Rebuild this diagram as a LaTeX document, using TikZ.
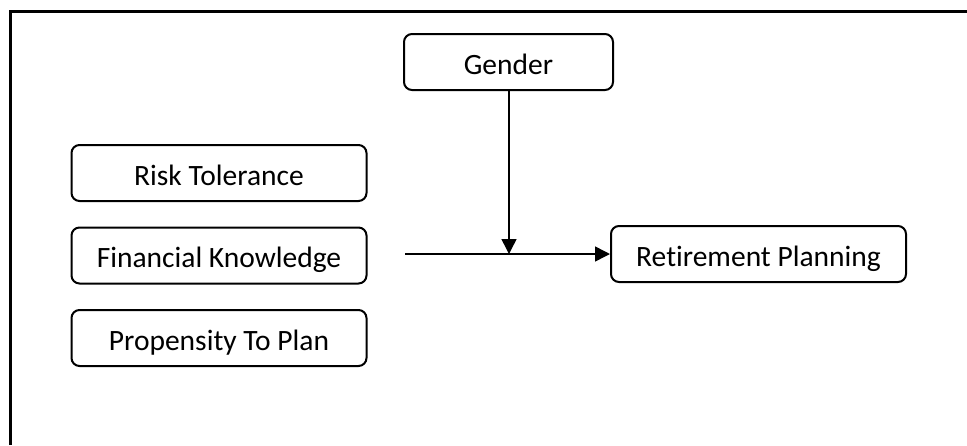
\documentclass[tikz,border=0pt]{standalone}
\usepackage{fontspec}
\setmainfont{Carlito}[Ligatures=NoCommon]
\usetikzlibrary{arrows.meta}

\begin{document}
\begin{tikzpicture}[x=1pt, y=-1pt, node distance=82.5pt,
	factor/.style={rectangle, rounded corners=8pt, minimum width=295pt, minimum height=56pt, inner sep=0pt, text height=26pt, text depth=2pt, text centered, draw=black, line width=2pt, font=\fontsize{29.5}{34}\selectfont},
	moderator/.style={factor, minimum width=209pt},
	arrow/.style={line width=1.5pt, -{Triangle[length=15pt, width=15pt]}}]
	
	\useasboundingbox (0,0) rectangle (967,445);
	\draw [line width=3pt] (10,445) -- (10,11.5) -- (967,11.5);
	
	\node (risk) [factor] at (219,173) {Risk Tolerance};
	\node (knowledge) [factor, below of=risk] {Financial Knowledge};
	\node (propensity) [factor, below of=knowledge] {Propensity To Plan};
	\node (gender) [moderator] at (508.5,62) {Gender};
	\node (planning) [factor] at (758.5,254) {Retirement Planning};
	
	\coordinate (start) at (405,254);
	\coordinate (meet) at (509,254);
	
	\draw [arrow] (start) -- (planning.west |- start);
	\draw [arrow] (gender.south -| meet) -- (meet);
\end{tikzpicture}
\end{document}
